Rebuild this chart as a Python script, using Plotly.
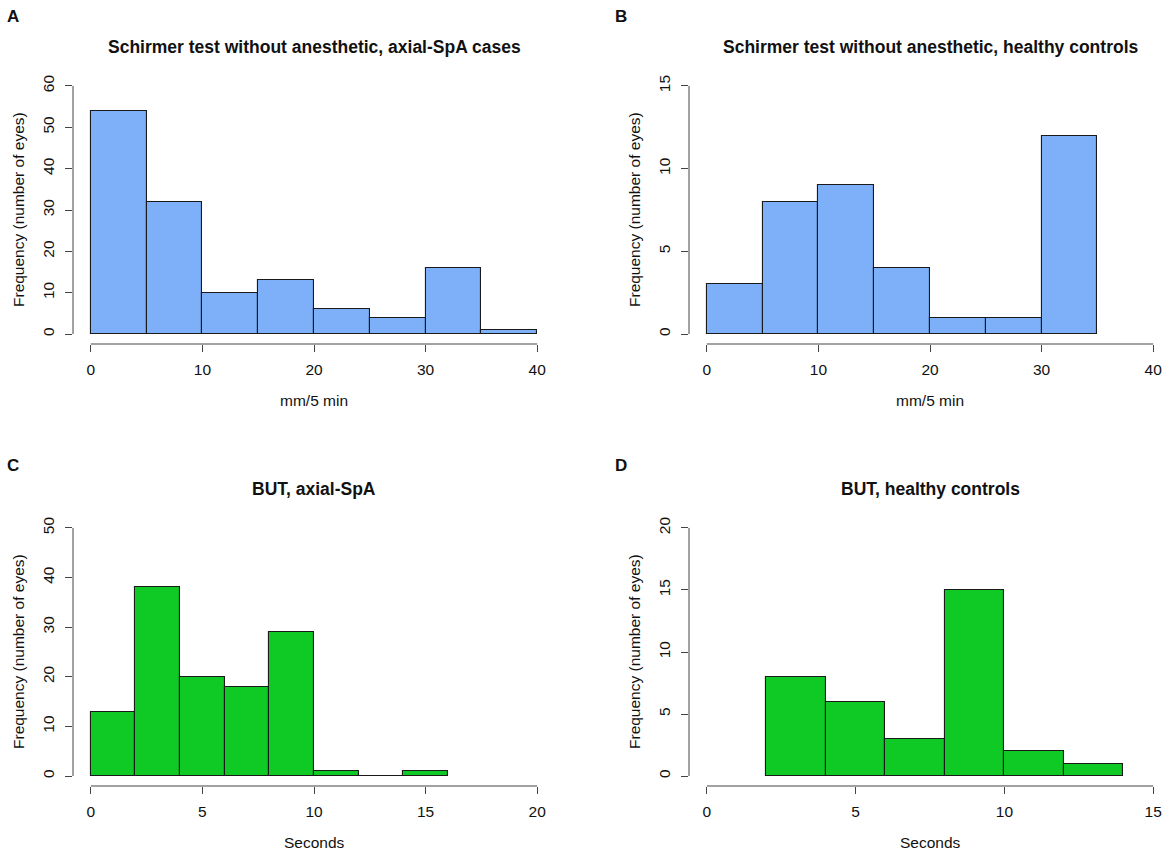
import plotly.graph_objects as go

# ---------------- data ----------------
a_edges = [0, 5, 10, 15, 20, 25, 30, 35, 40]
a_counts = [54, 32, 10, 13, 6, 4, 16, 1]
a_xticks = [0, 10, 20, 30, 40]
a_yticks = [0, 10, 20, 30, 40, 50, 60]

b_edges = [0, 5, 10, 15, 20, 25, 30, 35]
b_counts = [3, 8, 9, 4, 1, 1, 12]
b_xticks = [0, 10, 20, 30, 40]
b_yticks = [0, 5, 10, 15]

c_edges = [0, 2, 4, 6, 8, 10, 12, 14, 16]
c_counts = [13, 38, 20, 18, 29, 1, 0, 1]
c_xticks = [0, 5, 10, 15, 20]
c_yticks = [0, 10, 20, 30, 40, 50]

d_edges = [2, 4, 6, 8, 10, 12, 14]
d_counts = [8, 6, 3, 15, 2, 1]
d_xticks = [0, 5, 10, 15]
d_yticks = [0, 5, 10, 15, 20]

titles = ["Schirmer test without anesthetic, axial-SpA cases",
          "Schirmer test without anesthetic, healthy controls",
          "BUT, axial-SpA",
          "BUT, healthy controls"]
xlabels = ["mm/5 min", "mm/5 min", "Seconds", "Seconds"]
ylabel = "Frequency (number of eyes)"
letters = ["A", "B", "C", "D"]

BLUE = "#7EB0FA"
GREEN = "#0FC925"
FONT = "Liberation Sans, Arial, sans-serif"
AXC = "#444444"
TXT = 15.5

W, H = 1170, 853

# pixel layout of the four plot regions (left, right, top, bottom)
regions = [
    (73, 555, 76, 344),
    (689, 1170, 76, 344),
    (73, 555, 518, 786),
    (689, 1170, 518, 786),
]

panels = [
    (a_edges, a_counts, a_xticks, a_yticks, BLUE),
    (b_edges, b_counts, b_xticks, b_yticks, BLUE),
    (c_edges, c_counts, c_xticks, c_yticks, GREEN),
    (d_edges, d_counts, d_xticks, d_yticks, GREEN),
]

fig = go.Figure()
annotations = []
shapes = []

for i, ((edges, counts, xt, yt, col), (l, r, t, b)) in enumerate(zip(panels, regions)):
    n = i + 1
    xa = "x" if n == 1 else f"x{n}"
    ya = "y" if n == 1 else f"y{n}"
    centers = [(edges[k] + edges[k + 1]) / 2 for k in range(len(counts))]
    widths = [edges[k + 1] - edges[k] for k in range(len(counts))]
    fig.add_trace(go.Bar(
        x=centers, y=counts, width=widths,
        marker=dict(color=col, line=dict(color="#1a1a1a", width=1.1)),
        xaxis=xa, yaxis=ya, showlegend=False, hoverinfo="x+y",
    ))
    # R-style 4% padding
    xspan = xt[-1] - xt[0]
    yspan = yt[-1] - yt[0]
    x0 = xt[0] - 0.04 * xspan
    full_px = 482.0
    x1 = x0 + 1.08 * xspan * (r - l) / full_px
    y0 = yt[0] - 0.04 * yspan
    y1 = yt[-1] + 0.04 * yspan
    axis_common = dict(showgrid=False, zeroline=False, showline=False,
                       ticks="outside", ticklen=7, tickwidth=1, tickcolor=AXC,
                       tickfont=dict(family=FONT, size=TXT, color="#111111"),
                       tickmode="array")
    fig.update_layout(**{
        ("xaxis" if n == 1 else f"xaxis{n}"): dict(
            domain=[l / W, r / W], range=[x0, x1], anchor=ya,
            tickvals=xt, ticktext=[str(v) for v in xt],
            ticklabelstandoff=4, **axis_common),
        ("yaxis" if n == 1 else f"yaxis{n}"): dict(
            domain=[(H - b) / H, (H - t) / H], range=[y0, y1], anchor=xa,
            tickvals=yt, ticktext=[str(v) for v in yt], tickangle=-90,
            ticklabelstandoff=5, **axis_common),
    })
    # axis lines spanning first to last tick (R style)
    shapes.append(dict(type="line", xref=xa, yref=f"{ya} domain",
                       x0=xt[0], x1=xt[-1], y0=0, y1=0,
                       line=dict(color=AXC, width=1)))
    shapes.append(dict(type="line", xref=f"{xa} domain", yref=ya,
                       x0=0, x1=0, y0=yt[0], y1=yt[-1],
                       line=dict(color=AXC, width=1)))
    cx = (l + r) / 2
    if r >= W:
        cx = (l + r + 2) / 2
    cy = (t + b) / 2
    # title
    annotations.append(dict(text=f"<b>{titles[i]}</b>", xref="paper", yref="paper",
                            x=cx / W, y=(H - (t - 29)) / H, xanchor="center", yanchor="middle",
                            showarrow=False, font=dict(family=FONT, size=17.5, color="#111111")))
    # x label
    annotations.append(dict(text=xlabels[i], xref="paper", yref="paper",
                            x=cx / W, y=(H - (b + 56)) / H, xanchor="center", yanchor="middle",
                            showarrow=False, font=dict(family=FONT, size=TXT, color="#111111")))
    # y label
    annotations.append(dict(text=ylabel, xref="paper", yref="paper", textangle=-90,
                            x=(l - 54) / W, y=(H - cy) / H, xanchor="center", yanchor="middle",
                            showarrow=False, font=dict(family=FONT, size=TXT, color="#111111")))
    # panel letter
    lx = 13 if l < 300 else 621
    ly = 17 if t < 300 else 465
    annotations.append(dict(text=f"<b>{letters[i]}</b>", xref="paper", yref="paper",
                            x=lx / W, y=(H - ly) / H, xanchor="center", yanchor="middle",
                            showarrow=False, font=dict(family=FONT, size=17, color="#111111")))

fig.update_layout(
    width=W, height=H, margin=dict(l=0, r=0, t=0, b=0),
    paper_bgcolor="white", plot_bgcolor="white",
    annotations=annotations, shapes=shapes, bargap=0,
    font=dict(family=FONT),
)

fig.write_html("out.html", config={"displayModeBar": False},
               post_script="document.body.style.margin='0px';document.body.style.overflow='hidden';")
